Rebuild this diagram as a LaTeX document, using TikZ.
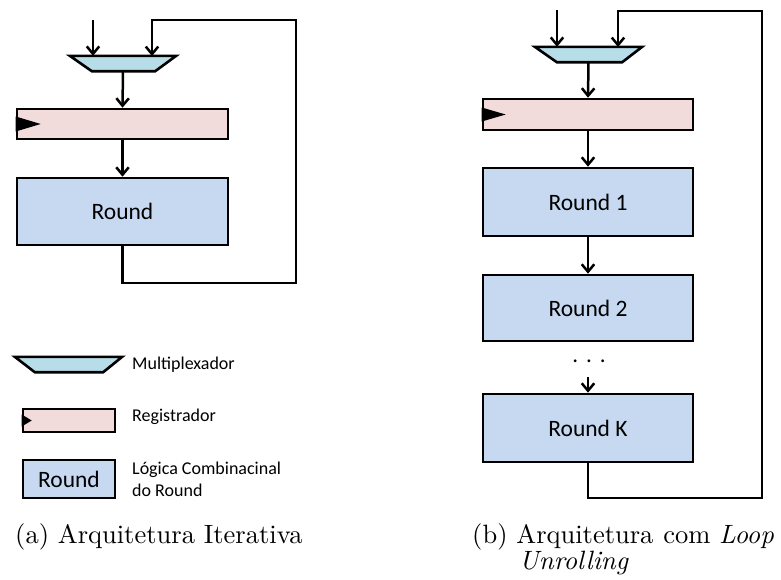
\documentclass[tikz,border=0pt]{standalone}
\usepackage{fontspec}
\newfontfamily\calib{Carlito}
\newfontfamily\capfont{lmroman10-regular.otf}[ItalicFont=lmroman10-italic.otf]
\usetikzlibrary{arrows.meta,calc}
\definecolor{muxc}{HTML}{B7DEE8}
\definecolor{regc}{HTML}{F2DCDB}
\definecolor{rndc}{HTML}{C6D9F1}
\tikzset{
  wire/.style={line width=2.5pt},
  tipb/.tip={Straight Barb[length=7.5pt,width=12.5pt,line width=2.5pt]},
  arr/.style={wire,-tipb},
  box/.style={draw,line width=2.6pt,inner sep=0pt,anchor=center},
  muxbox/.style={inner sep=0pt,minimum width=#1,minimum height=15pt},
  regbox/.style={box,fill=regc},
  rndbox/.style={box,fill=rndc,font=\calib\fontsize{23.5}{26}\selectfont},
  leglabel/.style={anchor=west,inner sep=0pt,font=\calib\fontsize{18}{22}\selectfont,align=left},
  captxt/.style={anchor=base west,inner sep=0pt,font=\capfont\fontsize{26.5}{30}\selectfont}
}
\newcommand{\muxshape}[3]{% node, left slant, right slant
  \draw[fill=muxc,line width=2.6pt,line join=miter] (#1.north west) -- (#1.north east) -- ([xshift=-#3]#1.south east) -- ([xshift=#2]#1.south west) -- cycle;}
\newcommand{\clockmark}[3]{% node, length, height
  \fill ([yshift=#3/2]#1.west) -- ([xshift=#2]#1.west) -- ([yshift=-#3/2]#1.west) -- cycle;}
\begin{document}
\begin{tikzpicture}[x=1pt,y=-1pt]
\useasboundingbox (0,0) rectangle (781,579);
% ---------- (a) ----------
\node[muxbox=106pt] (muxa) at (123,63.5) {};
\muxshape{muxa}{22pt}{21pt}
\node[regbox,minimum width=211pt,minimum height=30pt] (rega) at (122.5,124) {};
\clockmark{rega}{25pt}{15pt}
\node[rndbox,minimum width=211pt,minimum height=67pt] (rnda) at (122.5,211.5) {Round};
\coordinate (ina) at (93,20);
\coordinate (fbina) at (152,56);
\coordinate (loopa1) at (296,283);
\coordinate (loopa2) at (296,20);
\draw[arr] (ina) -- (ina |- muxa.north);
\draw[arr] (muxa.south) -- (rega.north);
\draw[arr] (rega.south) -- (rnda.north);
\draw[arr] (rnda.south) |- (loopa1) -- (loopa2) -| (fbina);
% legend
\node[muxbox=107pt] (legmux) at (68.5,364.5) {};
\muxshape{legmux}{20pt}{19pt}
\node[leglabel] (legmuxt) at (132,365) {Multiplexador};
\node[regbox,minimum width=92pt,minimum height=23pt] (legreg) at (69,420.5) {};
\clockmark{legreg}{10pt}{12pt}
\node[leglabel] (legregt) at (132,417) {Registrador};
\node[rndbox,minimum width=92pt,minimum height=38pt] (legrnd) at (69,479) {Round};
\node[leglabel] (legrndt) at (132,479) {Lógica Combinacinal\\do Round};
\node[captxt] (capa) at (15,543) {(a) Arquitetura Iterativa};
% ---------- (b) ----------
\node[muxbox=107pt] (muxb) at (588.5,54.5) {};
\muxshape{muxb}{22pt}{20pt}
\node[regbox,minimum width=210pt,minimum height=31pt] (regb) at (588,114.5) {};
\clockmark{regb}{24pt}{14pt}
\node[rndbox,minimum width=210pt,minimum height=68pt] (rb1) at (588,202) {Round 1};
\node[rndbox,minimum width=210pt,minimum height=66pt] (rb2) at (588,308) {Round 2};
\node[inner sep=0pt,anchor=base,font=\calib\fontsize{23}{26}\selectfont] (dots) at (589,362) {.\hspace{8pt}.\hspace{8pt}.};
\coordinate (dotarr) at (588,377);
\node[rndbox,minimum width=210pt,minimum height=68pt] (rbk) at (588,428) {Round K};
\coordinate (inb) at (557,10);
\coordinate (fbinb) at (618,47);
\coordinate (loopb1) at (762,498);
\coordinate (loopb2) at (762,11);
\draw[arr] (inb) -- (inb |- muxb.north);
\draw[arr] (muxb.south) -- (regb.north);
\draw[arr] (regb.south) -- (rb1.north);
\draw[arr] (rb1.south) -- (rb2.north);
\draw[arr] (dotarr) -- (rbk.north);
\draw[arr] (rbk.south) |- (loopb1) -- (loopb2) -| (fbinb);
\node[captxt] (capb1) at (472,543) {(b) Arquitetura\hspace{1pt} com \textit{Loop}};
\node[captxt] (capb2) at (519,569) {\textit{Unrolling}};
\end{tikzpicture}
\end{document}
